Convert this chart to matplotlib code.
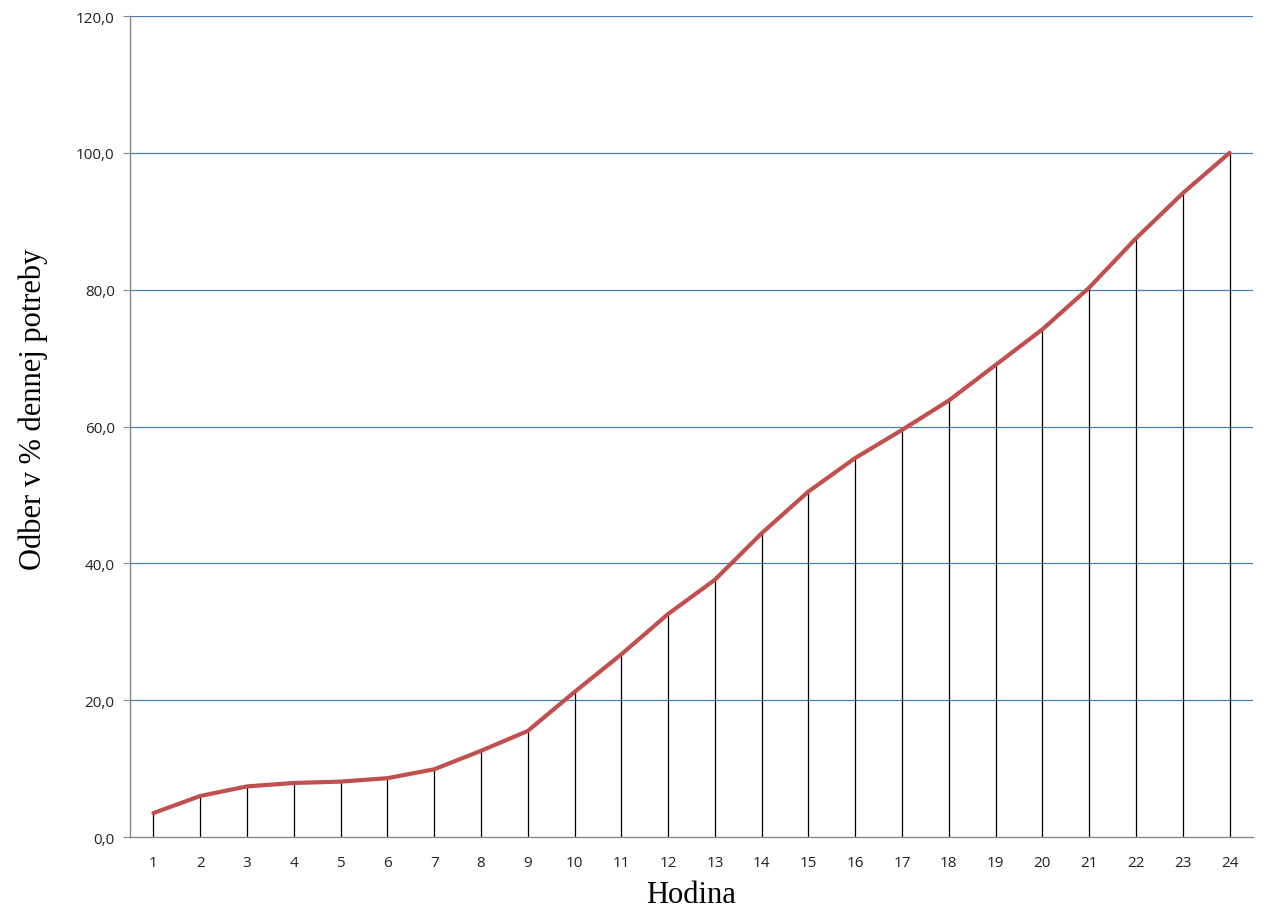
import matplotlib
matplotlib.use("Agg")
import matplotlib.pyplot as plt

hours = list(range(1, 25))
values = [3.5, 6.0, 7.4, 7.9, 8.1, 8.6, 9.9, 12.6, 15.5, 21.2, 26.7, 32.6,
          37.6, 44.4, 50.5, 55.4, 59.5, 63.8, 69.0, 74.2, 80.3, 87.5, 94.1, 100.0]
y_ticks = [0, 20, 40, 60, 80, 100, 120]
y_labels = ["0,0", "20,0", "40,0", "60,0", "80,0", "100,0", "120,0"]

fig = plt.figure(figsize=(12.71, 9.2), dpi=100)
ax = fig.add_axes([0.1023, 0.0891, 0.8835, 0.8924])

for y in y_ticks[1:]:
    ax.axhline(y, color="#4A7EBB", lw=0.9, zorder=1)

ax.vlines(hours, 0, values, colors="black", lw=0.9, zorder=2)
ax.plot(hours, values, color="#C0504D", lw=3.0, zorder=3, solid_capstyle="round")

ax.set_xlim(0.5, 24.5)
ax.set_ylim(0, 120)
ax.set_xticks(hours)
ax.set_xticklabels([str(h) for h in hours], fontfamily="Open Sans", fontsize=11, color="#222222")
ax.set_yticks(y_ticks)
ax.set_yticklabels(y_labels, fontfamily="Open Sans", fontsize=11, color="#222222")
ax.tick_params(axis="x", length=0, pad=13)
ax.tick_params(axis="y", length=5, color="#888888", pad=6)

for s in ["top", "right"]:
    ax.spines[s].set_visible(False)
for s in ["left", "bottom"]:
    ax.spines[s].set_color("#888888")
    ax.spines[s].set_linewidth(1.0)

ax.set_xlabel("Hodina", fontfamily="Liberation Serif", fontsize=22, labelpad=7)
ax.set_ylabel("Odber v % dennej potreby", fontfamily="Liberation Serif", fontsize=22)
ax.yaxis.set_label_coords(-0.073, 0.5225)

fig.savefig("out.png", dpi=100)
